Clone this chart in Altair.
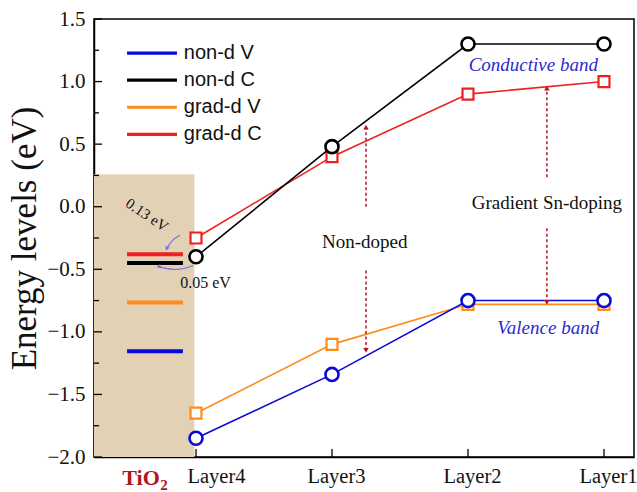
import altair as alt
import pandas as pd

# ---- data ----
layers = ["Layer4", "Layer3", "Layer2", "Layer1"]
series = ["non-d V", "non-d C", "grad-d V", "grad-d C"]
non_d_V = [-1.85, -1.34, -0.75, -0.75]
non_d_C = [-0.40, 0.48, 1.30, 1.30]
grad_d_V = [-1.65, -1.10, -0.78, -0.78]
grad_d_C = [-0.25, 0.40, 0.90, 1.00]
tio2_levels = [-1.155, -0.45, -0.765, -0.38]   # same order as series
colors = ["#0a0ad8", "#000000", "#ff8c1a", "#ee2020"]
shapes = ["circle", "circle", "square", "square"]

values = {"non-d V": non_d_V, "non-d C": non_d_C, "grad-d V": grad_d_V, "grad-d C": grad_d_C}

SERIF = "Liberation Serif"
SANS = "Liberation Sans"

X0, X1 = -0.75, 3.2206
Y0, Y1 = -2.0, 1.5
xs = alt.Scale(domain=[X0, X1], nice=False, zero=False)
ys = alt.Scale(domain=[Y0, Y1], nice=False, zero=False)

ymajor = [-2.0, -1.5, -1.0, -0.5, 0.0, 0.5, 1.0, 1.5]
yminor = [-1.75, -1.25, -0.75, -0.25, 0.25, 0.75, 1.25]
label_expr = ("datum.value == 0 ? 'Layer4' : datum.value == 1 ? 'Layer3' : "
              "datum.value == 2 ? 'Layer2' : 'Layer1'")

x_axis = alt.Axis(values=[0, 1, 2, 3], labelExpr=label_expr, ticks=False, title=None,
                  labelFont=SERIF, labelFontSize=20.5, labelColor="#111111", labelPadding=9,
                  labelOffset={"condition": {"test": "datum.value == 0", "value": 20}, "value": 4},
                  domainColor="black", domainWidth=1.5, grid=False)
y_axis = alt.Axis(values=ymajor, format=".1f", ticks=False, title="Energy levels (eV)",
                  labelFont=SERIF, labelFontSize=21, labelColor="#111111", labelPadding=9,
                  titleFont=SERIF, titleFontSize=35, titleFontWeight="normal",
                  titleColor="#111111", titlePadding=4, domainColor="black", domainWidth=1.5,
                  grid=False)

rows = []
for s in series:
    for i, v in enumerate(values[s]):
        rows.append({"series": s, "pos": i, "layer": layers[i], "E": v})
df = pd.DataFrame(rows)

# shaded TiO2 region (carries the axes)
shade = alt.Chart(pd.DataFrame({"x": [X0], "x2": [-0.012], "y": [Y0], "y2": [0.26]})).mark_rect(
    color="#e3d1b6").encode(
    x=alt.X("x:Q", scale=xs, axis=x_axis), x2="x2:Q",
    y=alt.Y("y:Q", scale=ys, axis=y_axis), y2="y2:Q")

# TiO2 level bars
tio = pd.DataFrame({"series": series, "E": tio2_levels, "x": [-0.507] * 4, "x2": [-0.096] * 4})
tio_bars = alt.Chart(tio).mark_rule(strokeWidth=4).encode(
    x=alt.X("x:Q", scale=xs), x2="x2:Q", y=alt.Y("E:Q", scale=ys),
    color=alt.Color("series:N", scale=alt.Scale(domain=series, range=colors), legend=None))

draw_order = ["grad-d V", "grad-d C", "non-d V", "non-d C"]
series_layers = []
for s in draw_order:
    idx = series.index(s)
    d = df[df.series == s]
    base = alt.Chart(d).encode(x=alt.X("pos:Q", scale=xs), y=alt.Y("E:Q", scale=ys))
    ln = base.mark_line(color=colors[idx], strokeWidth=1.6)
    if shapes[idx] == "circle":
        pt = base.mark_point(shape="circle", size=170, filled=False, fill="white", fillOpacity=1,
                             stroke=colors[idx], strokeWidth=2.6, opacity=1)
    else:
        pt = base.mark_point(shape="square", size=120, filled=False, fill="white", fillOpacity=1,
                             stroke=colors[idx], strokeWidth=2.2, opacity=1)
    series_layers += [ln, pt]

# dashed arrows
arrow_x = [1.25, 1.25, 2.58, 2.58]
arrow_from = [0.0, -0.51, 0.236, -0.172]
arrow_to = [0.636, -1.148, 0.948, -0.764]
arr = pd.DataFrame({"x": arrow_x, "y": arrow_from, "y2": arrow_to,
                    "ang": [0 if t > f else 180 for f, t in zip(arrow_from, arrow_to)]})
arrow_rules = alt.Chart(arr).mark_rule(color="#b0182a", strokeWidth=1.5, strokeDash=[3, 2.5]).encode(
    x=alt.X("x:Q", scale=xs), y=alt.Y("y:Q", scale=ys), y2="y2:Q")
arrow_heads = alt.Chart(arr).mark_point(shape="triangle-up", filled=True, color="#b0182a", size=30,
                                        opacity=1).encode(
    x=alt.X("x:Q", scale=xs), y=alt.Y("y2:Q", scale=ys), angle=alt.Angle("ang:Q", scale=None))

# curved offset arrows
c1x = [-0.118, -0.175, -0.215]
c1y = [-0.228, -0.262, -0.335]
c2x = [-0.022, -0.13, -0.275]
c2y = [-0.47, -0.515, -0.478]
curves = pd.DataFrame({"x": c1x + c2x, "y": c1y + c2y, "k": ["a"] * 3 + ["b"] * 3,
                       "o": [0, 1, 2] * 2})
curve_lines = alt.Chart(curves).mark_line(color="#7a6ee0", strokeWidth=1.2, interpolate="basis").encode(
    x=alt.X("x:Q", scale=xs), y=alt.Y("y:Q", scale=ys), detail="k:N", order="o:Q")
heads = pd.DataFrame({"x": [c1x[-1], c2x[-1]], "y": [c1y[-1], c2y[-1]], "ang": [205, 260]})
curve_heads = alt.Chart(heads).mark_point(shape="triangle-up", filled=True, color="#7a6ee0", size=22,
                                          opacity=1).encode(
    x=alt.X("x:Q", scale=xs), y=alt.Y("y:Q", scale=ys), angle=alt.Angle("ang:Q", scale=None))

# text annotations
ann = pd.DataFrame({
    "t": ["Gradient Sn-doping", "Non-doped", "0.05 eV"],
    "x": [2.58, 1.24, 0.07],
    "y": [0.03, -0.285, -0.612],
    "s": [19, 19, 16],
})
ann_text = alt.Chart(ann).mark_text(font=SERIF, color="#111111").encode(
    x=alt.X("x:Q", scale=xs), y=alt.Y("y:Q", scale=ys), text="t:N", size=alt.Size("s:Q", scale=None))
rot_text = alt.Chart(pd.DataFrame({"t": ["0.13 eV"], "x": [-0.36], "y": [-0.065]})).mark_text(
    font=SERIF, fontSize=15, angle=34, color="#111111").encode(
    x=alt.X("x:Q", scale=xs), y=alt.Y("y:Q", scale=ys), text="t:N")
band = pd.DataFrame({"t": ["Conductive band", "Valence band"], "x": [2.48, 2.59], "y": [1.13, -0.97]})
band_text = alt.Chart(band).mark_text(font=SERIF, fontSize=19, fontStyle="italic", color="#2a2ad0").encode(
    x=alt.X("x:Q", scale=xs), y=alt.Y("y:Q", scale=ys), text="t:N")

tio_main = alt.Chart(pd.DataFrame({"t": ["TiO"], "x": [-0.404], "y": [Y0]})).mark_text(
    font=SERIF, fontSize=22, fontWeight="bold", color="#b3141c", baseline="alphabetic", dy=28).encode(
    x=alt.X("x:Q", scale=xs), y=alt.Y("y:Q", scale=ys), text="t:N")
tio_sub = alt.Chart(pd.DataFrame({"t": ["2"], "x": [-0.235], "y": [Y0]})).mark_text(
    font=SERIF, fontSize=15, fontWeight="bold", color="#b3141c", baseline="alphabetic", dy=33).encode(
    x=alt.X("x:Q", scale=xs), y=alt.Y("y:Q", scale=ys), text="t:N")

# manual legend
leg = pd.DataFrame({"series": series,
                    "y": [1.228 - 0.2166 * i for i in range(len(series))],
                    "x": [-0.507] * 4, "x2": [-0.14] * 4, "tx": [-0.09] * 4})
leg_lines = alt.Chart(leg).mark_rule(strokeWidth=3.2).encode(
    x=alt.X("x:Q", scale=xs), x2="x2:Q", y=alt.Y("y:Q", scale=ys),
    color=alt.Color("series:N", scale=alt.Scale(domain=series, range=colors), legend=None))
leg_text = alt.Chart(leg).mark_text(font=SANS, fontSize=20, align="left", color="#111111").encode(
    x=alt.X("tx:Q", scale=xs), y=alt.Y("y:Q", scale=ys), text="series:N")

# inward ticks
ytick_minor = alt.Chart(pd.DataFrame({"y": yminor})).mark_rule(color="black", strokeWidth=1.3).encode(
    y=alt.Y("y:Q", scale=ys), x=alt.value(0), x2=alt.value(5))
ytick_major = alt.Chart(pd.DataFrame({"y": ymajor})).mark_rule(color="black", strokeWidth=1.3).encode(
    y=alt.Y("y:Q", scale=ys), x=alt.value(0), x2=alt.value(8))
xtick = alt.Chart(pd.DataFrame({"pos": [0, 1, 2, 3]})).mark_rule(color="black", strokeWidth=1.3).encode(
    x=alt.X("pos:Q", scale=xs), y=alt.value(438), y2=alt.value(430))

chart = alt.layer(
    shade, tio_bars, *series_layers, arrow_rules, arrow_heads, curve_lines, curve_heads,
    ann_text, rot_text, band_text, tio_main, tio_sub, leg_lines, leg_text,
    ytick_major, ytick_minor, xtick
).properties(
    width=540, height=438,
    autosize=alt.AutoSizeParams(type="none"),
    padding={"left": 94, "top": 19, "right": 3, "bottom": 35},
    background="white",
).configure_view(stroke="black", strokeWidth=1.5)

chart.save("out.html", embed_options={"renderer": "svg", "actions": False})
